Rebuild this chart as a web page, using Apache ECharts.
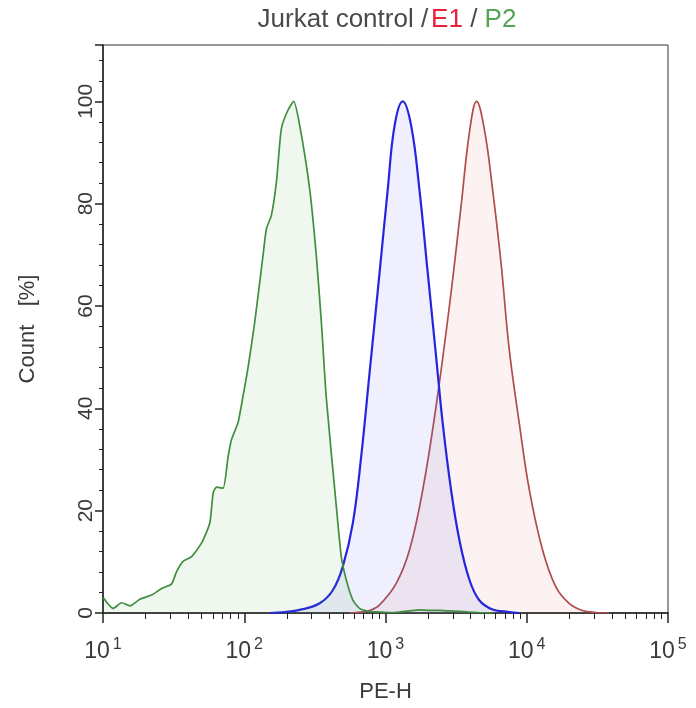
<!DOCTYPE html>
<html>
<head>
<meta charset="utf-8">
<script src="https://cdn.jsdelivr.net/npm/echarts@6/dist/echarts.min.js"></script>
<style>
html,body{margin:0;padding:0;background:#fff;}
#chart{width:696px;height:708px;}
</style>
</head>
<body>
<div id="chart"></div>
<script>
// x values are log10(PE-H); y values are Count [%]
const greenX = [1.002,1.073,1.132,1.191,1.261,1.344,1.415,1.486,1.521,1.567,1.627,1.698,1.756,1.780,1.804,1.850,1.886,1.910,1.956,1.992,2.027,2.074,2.133,2.157,2.192,2.228,2.263,2.310,2.350,2.392,2.463,2.510,2.546,2.581,2.652,2.687,2.722,2.769,2.816,2.887,2.960,3.030,3.099,3.170,3.240,3.310,3.380,3.450,3.520,3.590,3.660,3.760];
const greenY = [3.0,0.9,2.0,1.4,2.7,3.5,4.8,5.7,8.1,10.1,11.0,13.7,17.6,23.5,24.6,24.4,30.6,33.9,37.2,42.5,48.0,56.8,69.9,75.1,77.7,84.3,94.7,98.3,100.0,95.4,82.9,69.9,56.8,42.0,20.8,11.0,6.5,2.5,0.9,0.3,0.2,0.1,0.2,0.4,0.6,0.5,0.5,0.4,0.3,0.2,0.1,0.0];

const blueX = [2.180,2.286,2.392,2.534,2.628,2.698,2.769,2.828,2.887,2.958,3.016,3.064,3.122,3.182,3.240,3.299,3.358,3.405,3.464,3.523,3.594,3.664,3.758,3.876,3.947];
const blueY = [0.0,0.2,0.6,1.9,4.5,9.1,17.6,30.6,46.9,66.5,82.8,95.2,100.0,95.2,82.8,66.5,50.2,37.1,24.1,14.3,6.5,2.5,0.7,0.2,0.0];

const redX = [2.746,2.793,2.887,2.958,3.076,3.170,3.264,3.358,3.452,3.535,3.594,3.645,3.700,3.758,3.818,3.876,3.947,4.018,4.112,4.206,4.300,4.394,4.489,4.583];
const redY = [0.0,0.1,0.5,1.6,5.8,12.3,24.1,40.4,59.9,79.5,93.9,100.0,94.5,82.8,68.4,51.5,37.1,24.1,12.3,5.1,1.9,0.5,0.1,0.0];

const decadeTicks = [1,2,3,4,5];
const yTicks = [0,20,40,60,80,100];

const titleParts = ['Jurkat control /', 'E1', ' /', ' P2'];

function pairs(xs, ys){ return xs.map((x,i)=>[x, ys[i]]); }

const minorX = [];
for (let d = 1; d < 5; d++) for (let k = 2; k <= 9; k++) minorX.push(d + Math.log10(k));

const chart = echarts.init(document.getElementById('chart'), null, {renderer:'canvas'});
const FONT = 'Liberation Sans, Arial, sans-serif';
const TXT = '#3a3a3a';
chart.setOption({
  backgroundColor:'#fff',
  animation:false,
  title:{
    text:'{a|'+titleParts[0]+'}{r|'+titleParts[1]+'}{a|'+titleParts[2]+'}{g|'+titleParts[3]+'}',
    left:382, top:2, textAlign:'center',
    textStyle:{
      fontFamily:FONT, fontSize:26, fontWeight:'normal',
      rich:{
        a:{color:'#4a4a4a', fontSize:26, fontFamily:FONT},
        r:{color:'#e8203c', fontSize:26, fontFamily:FONT, padding:[0,0,0,3]},
        g:{color:'#55a555', fontSize:26, fontFamily:FONT}
      }
    }
  },
  grid:{left:103, right:28, top:45, bottom:95, show:true, borderColor:'#333', borderWidth:1, containLabel:false, outerBoundsMode:'none'},
  xAxis:[{
    type:'value', min:1, max:5, interval:1,
    name:'PE-H', nameLocation:'middle', nameGap:68,
    nameTextStyle:{fontFamily:FONT, fontSize:22, color:TXT},
    axisLine:{show:true, onZero:false, lineStyle:{color:'#222', width:1.5}},
    axisTick:{show:true, length:10, lineStyle:{color:'#222', width:1.5}},
    splitLine:{show:false},
    axisLabel:{
      margin:24, color:TXT, fontFamily:FONT,
      formatter:function(v){ return decadeTicks.indexOf(v) >= 0 ? '{b|10}{s|' + v + '}' : ''; },
      rich:{
        b:{fontSize:23, fontFamily:FONT, color:TXT, verticalAlign:'bottom', lineHeight:26},
        s:{fontSize:16, fontFamily:FONT, color:TXT, verticalAlign:'top', lineHeight:26, padding:[0,0,0,3]}
      }
    }
  },{
    type:'value', min:1, max:5, gridIndex:0, position:'bottom',
    axisLine:{show:false},
    axisLabel:{show:false},
    splitLine:{show:false},
    axisTick:{show:true, length:6, customValues:minorX, lineStyle:{color:'#222', width:1}}
  }],
  yAxis:{
    type:'value', min:0, max:111, interval:20,
    name:'Count   [%]', nameLocation:'middle', nameGap:64, nameRotate:90,
    nameTextStyle:{fontFamily:FONT, fontSize:22, color:TXT},
    axisLine:{show:true, lineStyle:{color:'#222', width:1.5}},
    axisTick:{show:true, length:8, lineStyle:{color:'#222', width:1.5}},
    minorTick:{show:true, splitNumber:5, length:4, lineStyle:{color:'#222', width:1}},
    splitLine:{show:false},
    minorSplitLine:{show:false},
    axisLabel:{
      rotate:90, margin:6, color:TXT, fontFamily:FONT, fontSize:21,
      showMaxLabel:false,
      formatter:function(v){ return yTicks.indexOf(v) >= 0 ? String(v) : ''; }
    }
  },
  series:[
    {type:'line', name:'Jurkat control', data:pairs(redX, redY), smooth:0.4, symbol:'none',
     lineStyle:{color:'#b04c4c', width:1.7}, areaStyle:{color:'rgba(225,120,110,0.14)'}, z:2},
    {type:'line', name:'E1', data:pairs(blueX, blueY), smooth:0.4, symbol:'none',
     lineStyle:{color:'#2525e0', width:2.2}, areaStyle:{color:'rgba(90,90,245,0.14)'}, z:3},
    {type:'line', name:'P2', data:pairs(greenX, greenY), smooth:0.2, symbol:'none',
     lineStyle:{color:'#3f8f3f', width:1.7}, areaStyle:{color:'rgba(70,165,70,0.12)'}, z:4}
  ]
});
</script>
</body>
</html>
